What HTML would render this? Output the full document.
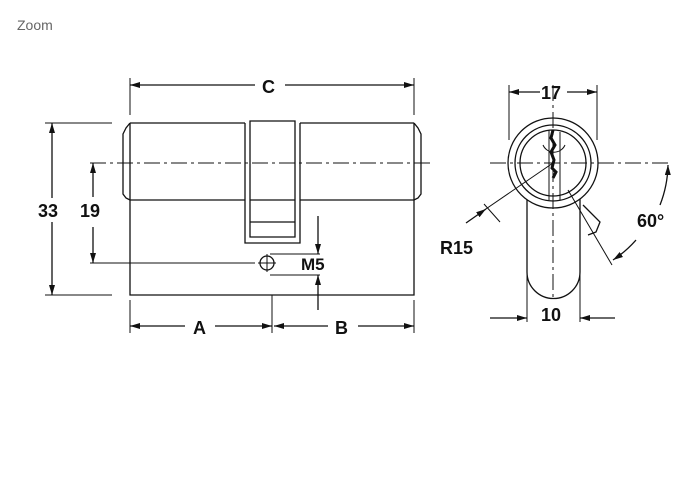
<!DOCTYPE html>
<html><head><style>
html,body{margin:0;padding:0;background:#fff;}
svg{display:block;}
text{font-family:"Liberation Sans",Arial,sans-serif;font-weight:bold;fill:#111;}
</style></head><body>
<svg width="695" height="502" viewBox="0 0 695 502" xmlns="http://www.w3.org/2000/svg">
<defs>
<marker id="a" viewBox="0 0 10 6" refX="10" refY="3" markerWidth="10" markerHeight="6" orient="auto-start-reverse" markerUnits="userSpaceOnUse"><path d="M0,0 L10,3 L0,6 z" fill="#111"/></marker>
</defs>
<text x="17" y="30" style="font-weight:normal;fill:#666;font-size:14px">Zoom</text>
<g stroke="#111" fill="none" stroke-width="1.3">
<!-- left body -->
<path d="M130,123 L245,123 M300,123 L414,123"/>
<path d="M130,123 L126,128 L123,134 L123,194 L126,198 L130,200 L245,200 M300,200 L414,200 L418,198 L421,194 L421,134 L418,128 L414,123"/>
<path d="M130,123 L130,200 M414,123 L414,200"/>
<path d="M130,200 L130,295 L414,295 L414,200"/>
<path d="M245,123 L245,243 L300,243 L300,123"/>
<path d="M250,121 L295,121 L295,237 L250,237 Z"/>
<path d="M250,200 L295,200 M250,222 L295,222"/>
<circle cx="267" cy="263" r="7"/>
<path d="M267,254 L267,272 M258,263 L276,263" stroke-width="1"/>
<!-- center line -->
<path d="M90,163 L430,163" stroke-dasharray="16,4,3,4" stroke-width="1"/>
<!-- C dim -->
<path d="M130,78 L130,115 M414,78 L414,115" stroke-width="1"/>
<path d="M130,85 L255,85" marker-start="url(#a)"/>
<path d="M285,85 L414,85" marker-end="url(#a)"/>
<!-- 33 dim -->
<path d="M45,123 L112,123 M45,295 L112,295" stroke-width="1"/>
<path d="M52,123 L52,198" marker-start="url(#a)"/>
<path d="M52,222 L52,295" marker-end="url(#a)"/>
<!-- 19 dim -->
<path d="M93,163 L93,197" marker-start="url(#a)"/>
<path d="M93,227 L93,263" marker-end="url(#a)"/>
<path d="M90,263 L255,263" stroke-width="1"/>
<!-- M5 -->
<path d="M270,254 L320,254 M270,275 L320,275" stroke-width="1"/>
<path d="M318,216 L318,254" marker-end="url(#a)"/>
<path d="M318,310 L318,275" marker-end="url(#a)"/>
<!-- A B -->
<path d="M130,300 L130,333 M272,295 L272,333 M414,300 L414,333" stroke-width="1"/>
<path d="M130,326 L185,326" marker-start="url(#a)"/>
<path d="M215,326 L272,326" marker-end="url(#a)"/>
<path d="M274,326 L328,326" marker-start="url(#a)"/>
<path d="M358,326 L414,326" marker-end="url(#a)"/>

<!-- right view -->
<path d="M527,195 L527,272 A26.5,26.5 0 0 0 580,272 L580,195"/>
<circle cx="553" cy="163" r="45" fill="#fff"/>
<circle cx="553" cy="163" r="38"/>
<circle cx="553" cy="163" r="33"/>
<path d="M543,145 A12,12 0 0 0 565,145" stroke-width="1"/>
<path d="M549,130 L549,200 M560,132 L560,200" stroke-width="1"/>
<path d="M553,130 L551,138 L555,145 L551,152 L554,160 L552,168 L556,172 L553,178" stroke-width="3"/>
<path d="M583,205 L600,222 L596,232 L588,235" />
<path d="M490,163 L668,163" stroke-dasharray="16,4,3,4" stroke-width="1"/>
<path d="M553,85 L553,298" stroke-dasharray="16,4,3,4" stroke-width="1"/>
<!-- 17 -->
<path d="M509,85 L509,140 M597,85 L597,140" stroke-width="1"/>
<path d="M509,92 L540,92" marker-start="url(#a)"/>
<path d="M567,92 L597,92" marker-end="url(#a)"/>
<!-- 10 -->
<path d="M527,275 L527,322 M580,275 L580,322" stroke-width="1"/>
<path d="M490,318 L527,318" marker-end="url(#a)"/>
<path d="M615,318 L580,318" marker-end="url(#a)"/>
<!-- R15 -->
<path d="M553,163 L480,213" stroke-width="1"/>
<path d="M466,223 L486,209" marker-end="url(#a)"/>
<path d="M484,204 L500,222" stroke-width="1"/>
<!-- 60 -->
<path d="M568,190 L612,265" stroke-width="1"/>
<path d="M668,165 A115,115 0 0 1 660,205" marker-start="url(#a)"/>
<path d="M636,240 A115,115 0 0 1 613,260" marker-end="url(#a)"/>
</g>
<text x="262" y="93" font-size="18">C</text>
<text x="38" y="217" font-size="18">33</text>
<text x="80" y="217" font-size="18">19</text>
<text x="301" y="270" font-size="17">M5</text>
<text x="193" y="334" font-size="18">A</text>
<text x="335" y="334" font-size="18">B</text>
<text x="541" y="99" font-size="18">17</text>
<text x="541" y="321" font-size="18">10</text>
<text x="440" y="254" font-size="18">R15</text>
<text x="637" y="227" font-size="18">60°</text>
</svg>
</body></html>
